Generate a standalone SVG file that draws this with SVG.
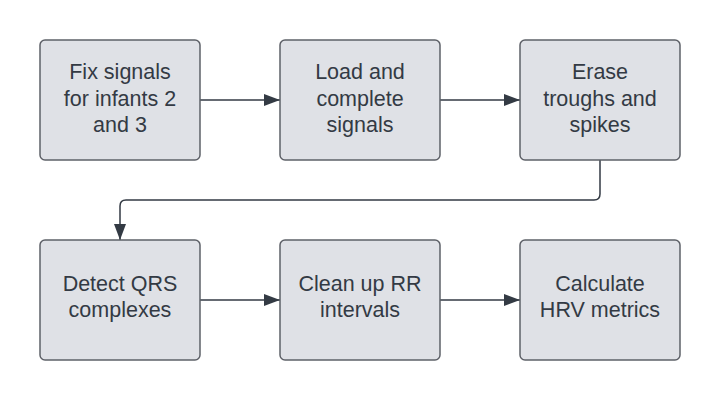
<svg xmlns="http://www.w3.org/2000/svg" width="720" height="400" viewBox="0 0 720 400">
<defs>
<style>
.box{fill:#dfe1e6;stroke:#5e6168;stroke-width:1.5}
.t{font-family:"Liberation Sans",Arial,sans-serif;font-size:21.5px;fill:#333a44;text-anchor:middle}
.c{fill:none;stroke:#333a44;stroke-width:1.5}
</style>
<marker id="ah" viewBox="0 0 16 12" refX="16" refY="6" markerWidth="16" markerHeight="12" markerUnits="userSpaceOnUse" orient="auto">
<path d="M0,0 L16,6 L0,12 Z" fill="#333a44"/>
</marker>
</defs>
<rect width="720" height="400" fill="#ffffff"/>
<g id="connectors">
<path class="c" d="M200,100 H280" marker-end="url(#ah)"/>
<path class="c" d="M440,100 H520" marker-end="url(#ah)"/>
<path class="c" d="M600,160 V194 Q600,200 594,200 H126 Q120,200 120,206 V240" marker-end="url(#ah)"/>
<path class="c" d="M200,300 H280" marker-end="url(#ah)"/>
<path class="c" d="M440,300 H520" marker-end="url(#ah)"/>
</g>
<g id="n1"><rect class="box" x="40" y="40" width="160" height="120" rx="5"/>
<text class="t" x="120" y="79">Fix signals</text><text class="t" x="120" y="105.5">for infants 2</text><text class="t" x="120" y="132">and 3</text></g>
<g id="n2"><rect class="box" x="280" y="40" width="160" height="120" rx="5"/>
<text class="t" x="360" y="79">Load and</text><text class="t" x="360" y="105.5">complete</text><text class="t" x="360" y="132">signals</text></g>
<g id="n3"><rect class="box" x="520" y="40" width="160" height="120" rx="5"/>
<text class="t" x="600" y="79">Erase</text><text class="t" x="600" y="105.5">troughs and</text><text class="t" x="600" y="132">spikes</text></g>
<g id="n4"><rect class="box" x="40" y="240" width="160" height="120" rx="5"/>
<text class="t" x="120" y="291">Detect QRS</text><text class="t" x="120" y="317">complexes</text></g>
<g id="n5"><rect class="box" x="280" y="240" width="160" height="120" rx="5"/>
<text class="t" x="360" y="291">Clean up RR</text><text class="t" x="360" y="317">intervals</text></g>
<g id="n6"><rect class="box" x="520" y="240" width="160" height="120" rx="5"/>
<text class="t" x="600" y="291">Calculate</text><text class="t" x="600" y="317">HRV metrics</text></g>
</svg>
